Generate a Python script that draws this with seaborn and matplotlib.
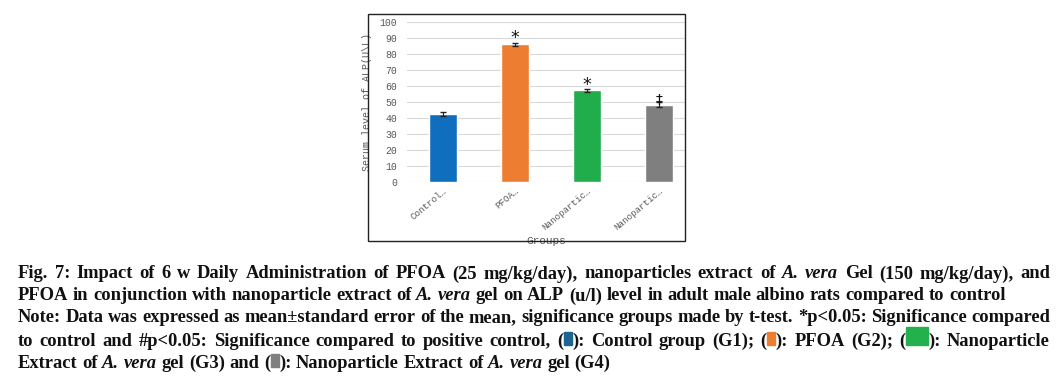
import numpy as np
import pandas as pd
import matplotlib.pyplot as plt
import seaborn as sns
from matplotlib.patches import Rectangle

groups = ['G1', 'G2', 'G3', 'G4']
tick_labels = ['Control…', 'PFOA…', 'Nanopartic…', 'Nanopartic…']
alp = [42.3, 86.1, 57.2, 48.3]
sem = [1.2, 0.9, 0.9, 1.6]
marks = ['', '*', '*', '‡']
colors = ['#106EBE', '#ED7D31', '#21AD4B', '#7F7F7F']

W, H = 1062, 378
fig = plt.figure(figsize=(W / 100, H / 100), dpi=100)
sns.set_style('white')
plt.rcParams['font.family'] = ['Liberation Serif', 'DejaVu Sans']

def fx(px):
    return px / W

def fy(py):
    return 1 - py / H

# frame around the chart
fig.patches.append(Rectangle((fx(368), fy(241)), fx(685) - fx(368), fy(14) - fy(241),
                             transform=fig.transFigure, fill=False, ec='#222222', lw=1.0))

ax = fig.add_axes([fx(407), fy(182), fx(685) - fx(407), fy(22) - fy(182)])
df = pd.DataFrame({'grp': groups, 'alp': alp})
sns.barplot(data=df, x='grp', y='alp', hue='grp', palette=colors, legend=False,
            width=0.39, ax=ax, saturation=1)
ax.errorbar(range(4), alp, yerr=sem, fmt='none', ecolor='#222222', capsize=2, lw=0.8)
for i, m in enumerate(marks):
    if m == '*':
        ax.text(i, alp[i] + sem[i] + 2.8, m, ha='center', va='center', fontsize=12.5,
                color='#111111', family='DejaVu Sans')
    elif m:
        ax.text(i, alp[i] + sem[i] + 1.2, m, ha='center', va='center', fontsize=10,
                color='#111111', family='DejaVu Sans')

ax.set_ylim(0, 100)
ax.set_xlim(-0.5, 3.36)
ax.set_yticks(range(0, 101, 10))
ax.grid(axis='y', color='#d9d9d9', lw=0.8)
ax.set_axisbelow(True)
for s in ax.spines.values():
    s.set_visible(False)
mono = 'Liberation Mono'
ax.tick_params(axis='y', length=0, labelsize=7, labelcolor='#595959', pad=7)
for lab in ax.get_yticklabels():
    lab.set_family(mono)
ax.set_xticks(range(4))
ax.set_xticklabels(tick_labels, rotation=40, ha='right', rotation_mode='anchor',
                   family=[mono, 'DejaVu Sans Mono'], fontsize=6.6, color='#595959')
ax.tick_params(axis='x', length=0, pad=3)
ax.set_xlabel('Groups', family=mono, fontsize=8, color='#595959')
ax.set_ylabel('Serum level of ALP(U\\L)', family=mono, fontsize=7.2, color='#595959')
aw = fx(685) - fx(407)
ah = fy(22) - fy(182)
ax.yaxis.set_label_coords((fx(372) - fx(407)) / aw, 0.5)
ax.xaxis.set_label_coords(0.5, -(fy(182) - fy(236)) / ah)

# caption, typeset word by word and justified
caption = [
    ([('Fig. 7: Impact of 6 w Daily Administration of PFOA (25 mg/kg/day), nanoparticles extract of ', 'b'),
      ('A. vera', 'i'), (' Gel (150 mg/kg/day), and', 'b')], True),
    ([('PFOA in conjunction with nanoparticle extract of ', 'b'), ('A. vera', 'i'),
      (' gel on ALP (u/l) level in adult male albino rats compared to control', 'b')], False),
    ([('Note: Data was expressed as mean±standard error of the mean, significance groups made by t-test. *p<0.05: Significance compared', 'b')], True),
    ([('to control and #p<0.05: Significance compared to positive control, (', 'b'), (('#1E6591', 8, 13), 'sq'),
      ('): Control group (G1); (', 'b'), (('#ED7D31', 8, 13), 'sq'), ('): PFOA (G2); (', 'b'),
      (('#22B14C', 22, 18), 'sq'), ('): Nanoparticle', 'b')], True),
    ([('Extract of ', 'b'), ('A. vera', 'i'), (' gel (G3) and (', 'b'), (('#808080', 8, 13), 'sq'),
      ('): Nanoparticle Extract of ', 'b'), ('A. vera', 'i'), (' gel (G4)', 'b')], False),
]
line_y = [272, 294, 316, 339, 361]
x0, x1 = 18, 1050
fs = 13.3
renderer = fig.canvas.get_renderer()

def style(kind):
    return dict(fontsize=fs, fontweight='bold', fontstyle='italic' if kind == 'i' else 'normal',
                family='Liberation Serif', color='#111111')

def width(s, kind):
    if kind == 'sq':
        return s[1] + 1
    t = fig.text(0, 0, s, **style(kind))
    w = t.get_window_extent(renderer).width
    t.remove()
    return w

space = width('a a', 'b') - width('aa', 'b')

for (runs, justify), y in zip(caption, line_y):
    words = [[]]
    for content, kind in runs:
        if kind == 'sq':
            words[-1].append((content, kind))
            continue
        parts = content.split(' ')
        for j, p in enumerate(parts):
            if j > 0:
                words.append([])
            if p:
                words[-1].append((p, kind))
    words = [w for w in words if w]
    widths = [sum(width(c, k) for c, k in w) for w in words]
    gap = (x1 - x0 - sum(widths)) / (len(words) - 1) if justify else space
    x = x0
    for w, ww in zip(words, widths):
        for c, k in w:
            if k == 'sq':
                col, sw, sh = c
                fig.patches.append(Rectangle((fx(x + 0.5), fy(y + 6)), fx(sw), fy(0) - fy(sh),
                                             transform=fig.transFigure, color=col))
            else:
                fig.text(fx(x), fy(y), c, va='center_baseline', ha='left', **style(k))
            x += width(c, k)
        x += gap

fig.savefig('out.png', dpi=100)
